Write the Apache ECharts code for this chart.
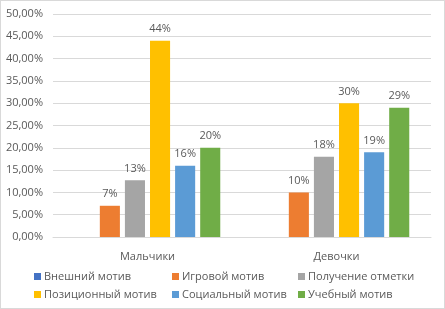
<!DOCTYPE html>
<html><head><meta charset="utf-8">
<script src="https://cdn.jsdelivr.net/npm/echarts@6/dist/echarts.min.js"></script>
<style>html,body{margin:0;padding:0;background:#fff}#c{width:445px;height:309px;box-sizing:border-box;border:1px solid #d9d9d9}</style>
</head><body><div id="c"></div>
<script>
const categories = ['Мальчики', 'Девочки'];
const seriesNames = ['Внешний мотив', 'Игровой мотив', 'Получение отметки', 'Позиционный мотив', 'Социальный мотив', 'Учебный мотив'];
const vneshniy = [null, null];
const igrovoy = [0.07, 0.10];
const otmetka = [0.127, 0.18];
const pozicionny = [0.44, 0.30];
const socialny = [0.16, 0.19];
const uchebny = [0.20, 0.29];
const yTicks = [0, 0.05, 0.10, 0.15, 0.20, 0.25, 0.30, 0.35, 0.40, 0.45, 0.50];
const colors = ['#4472C4', '#ED7D31', '#A5A5A5', '#FFC000', '#5B9BD5', '#70AD47'];
const values = [vneshniy, igrovoy, otmetka, pozicionny, socialny, uchebny];
const legendPos = [[33, 270], [171, 270], [297, 270], [33, 288], [171, 288], [297, 288]];
const txt = '#595959';
const chart = echarts.init(document.getElementById('c'));
chart.setOption({
  animation: false,
  grid: { left: 52, right: 13, top: 13, bottom: 71, containLabel: false },
  xAxis: {
    type: 'category', data: categories,
    axisLine: { lineStyle: { color: '#d9d9d9' } },
    axisTick: { show: false },
    axisLabel: { color: txt, fontSize: 11, margin: 14, fontFamily: 'Open Sans' }
  },
  yAxis: {
    type: 'value', min: yTicks[0], max: yTicks[yTicks.length - 1], interval: 0.05,
    axisLine: { show: false }, axisTick: { show: false },
    splitLine: { lineStyle: { color: '#d9d9d9' } },
    axisLabel: { color: txt, fontSize: 11, margin: 10, fontFamily: 'Open Sans',
      formatter: v => (v * 100).toFixed(2).replace('.', ',') + '%' }
  },
  legend: seriesNames.map((n, i) => ({
    data: [n], left: legendPos[i][0], top: legendPos[i][1],
    itemWidth: 7, itemHeight: 7, itemGap: 2, padding: 0,
    icon: 'rect',
    textStyle: { color: txt, fontSize: 11, fontFamily: 'Open Sans', padding: [0, 0, 0, -2] }
  })),
  series: seriesNames.map((n, i) => ({
    name: n, type: 'bar', data: values[i], barGap: '25%', barCategoryGap: '23%',
    itemStyle: { color: colors[i] },
    label: { show: true, position: 'top', distance: 6, color: txt, fontSize: 11, fontFamily: 'Open Sans',
      formatter: p => p.value == null ? '' : Math.round(p.value * 100) + '%' }
  }))
});
</script></body></html>
